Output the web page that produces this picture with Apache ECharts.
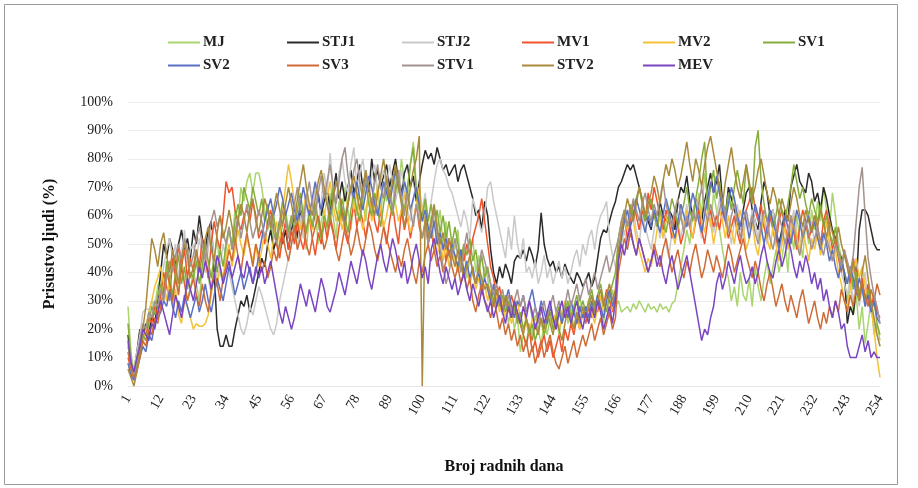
<!DOCTYPE html>
<html>
<head>
<meta charset="utf-8">
<script src="https://cdn.jsdelivr.net/npm/echarts@6/dist/echarts.min.js"></script>
<style>
html,body{margin:0;padding:0;background:#fff;}
#chart{width:918px;height:488px;}
</style>
</head>
<body>
<div id="chart"></div>
<script>
// Categories: working days 1..254
const days = Array.from({length: 254}, (_, i) => String(i + 1));
const yTicks = [0, 10, 20, 30, 40, 50, 60, 70, 80, 90, 100];
const seriesNames = ['MJ','STJ1','STJ2','MV1','MV2','SV1','SV2','SV3','STV1','STV2','MEV'];

const MJ = [
28,12,3,8,15,22,20,26,30,28,35,
38,32,42,36,45,40,33,44,38,30,35,
40,36,30,42,48,38,33,45,52,40,36,
48,55,50,62,58,70,65,72,75,68,75,
75,70,62,55,60,48,52,45,58,62,55,
60,52,58,65,55,48,60,56,62,50,58,
62,55,68,60,52,65,58,70,62,55,66,
60,72,65,58,70,62,75,68,60,72,65,
70,62,75,68,80,72,65,78,86,70,62,
58,65,52,60,48,55,62,50,58,45,52,
48,55,42,50,38,45,52,40,46,35,42,
38,30,35,28,32,25,30,22,28,20,25,
12,18,15,22,18,25,20,15,22,18,24,
20,26,18,24,30,22,28,20,26,32,24,
28,22,30,25,32,28,22,30,26,34,28,
30,26,27,28,26,29,27,30,28,26,29,
27,28,26,29,27,28,26,29,30,36,42,
48,55,50,62,58,68,60,75,65,56,68,
62,55,48,42,38,30,35,28,40,32,30,
38,28,42,35,30,38,44,36,42,48,40,
45,52,40,55,48,60,52,45,58,50,62,
55,65,58,70,62,55,68,60,50,45,38,
30,38,25,32,20,28,15,22,30,18,22,16];

const STJ1 = [
18,8,5,12,20,15,22,18,25,22,30,
40,50,45,52,48,42,50,55,48,52,45,
55,50,60,52,48,55,58,40,20,14,14,
18,14,14,20,25,30,28,32,26,30,35,
40,45,42,50,55,48,52,58,50,55,48,
55,60,52,62,58,65,60,55,62,68,60,
65,70,62,68,75,66,72,65,70,76,68,
72,78,70,75,68,80,72,76,70,74,78,
70,75,80,72,68,75,78,70,74,65,72,
78,83,80,82,78,84,80,76,78,74,76,
78,72,76,78,74,70,66,60,62,55,65,
60,48,40,36,42,38,43,40,36,44,46,
45,48,44,49,46,42,48,61,50,45,42,
44,40,42,38,43,40,38,36,40,38,35,
37,40,35,38,45,52,55,54,58,62,65,
70,72,75,78,76,78,74,70,65,60,58,
55,62,58,65,60,58,62,60,55,65,70,
68,74,65,60,66,62,58,65,70,75,68,
72,78,65,60,70,66,62,58,55,62,68,
70,62,58,55,65,72,68,60,62,55,50,
55,62,58,70,74,78,72,70,68,75,72,
65,68,62,70,66,60,55,52,48,45,40,
22,28,25,35,55,62,62,60,55,50,48,48];

const STJ2 = [
15,10,6,12,18,26,27,27,28,30,32,
35,42,48,52,45,50,38,46,55,42,48,
50,44,52,46,40,48,55,45,38,42,50,
45,40,35,30,25,20,18,22,28,25,30,
35,32,28,24,20,18,22,30,35,40,45,
50,55,48,60,52,65,58,62,70,55,65,
75,68,82,70,64,75,80,72,68,78,84,
70,75,80,72,66,74,78,68,72,76,70,
78,72,65,70,76,68,62,58,66,72,60,
62,68,58,65,72,78,80,76,74,70,68,
64,60,56,62,58,52,66,62,58,54,60,
70,72,65,60,55,50,45,56,48,60,50,
45,52,40,42,38,44,36,40,46,38,42,
36,40,44,38,42,36,40,45,48,42,50,
46,52,55,48,56,60,62,65,52,46,42,
45,50,55,48,58,62,55,50,60,56,52,
48,55,60,52,58,50,45,55,62,58,52,
58,64,56,60,66,58,52,62,68,60,54,
60,66,58,62,56,50,58,64,56,52,60,
55,62,58,52,60,56,50,58,62,54,48,
52,58,50,56,62,54,48,55,60,52,58,
50,56,48,52,58,50,44,48,52,40,36,
32,38,30,35,28,34,40,30,26,22,18,14];

const MV1 = [
10,6,4,8,14,20,18,24,22,28,25,
32,40,35,30,45,38,50,42,48,38,45,
40,48,42,52,45,38,50,58,52,48,60,
72,68,70,62,58,55,60,62,58,65,60,
52,55,50,58,62,56,50,45,52,58,48,
55,50,58,52,48,55,60,52,46,54,50,
58,52,60,55,48,56,62,54,50,58,64,
56,62,58,52,60,66,58,54,62,56,50,
58,64,56,50,62,55,60,52,58,64,56,
52,58,50,55,48,52,46,50,44,52,48,
46,42,48,44,50,46,52,56,60,66,58,
50,42,38,32,35,28,30,26,32,28,24,
22,18,14,20,12,16,10,14,18,12,16,
10,14,18,12,20,16,22,18,24,20,26,
22,28,24,30,26,32,28,34,30,26,32,
45,55,60,52,58,65,60,55,62,58,68,
62,70,65,60,55,62,58,52,60,56,50,
54,60,56,52,58,62,55,50,58,62,56,
60,55,62,58,52,56,60,54,50,58,62,
65,70,62,58,64,56,52,60,55,50,58,
62,56,52,60,54,48,56,62,58,52,55,
60,56,50,58,62,55,48,52,45,40,48,
42,36,45,40,32,38,30,36,28,32,26,24];

const MV2 = [
8,5,3,6,10,15,20,26,30,35,38,
42,36,30,38,28,34,25,22,30,28,24,
20,22,21,21,22,25,32,40,35,42,38,
45,50,42,48,55,50,46,52,48,44,50,
42,48,54,50,45,52,58,50,62,70,78,
72,65,60,55,62,68,60,55,64,58,52,
60,66,72,64,58,62,55,60,66,70,62,
68,60,55,62,68,58,64,70,62,56,60,
66,72,64,58,62,68,60,54,58,64,70,
62,56,52,58,50,46,52,44,50,42,48,
44,40,46,38,42,36,40,34,38,32,36,
30,34,28,32,26,30,24,28,22,26,30,
24,28,22,18,24,20,26,22,18,24,28,
22,26,20,24,30,26,22,28,24,20,26,
24,30,26,22,28,32,26,30,24,28,34,
48,52,58,55,62,58,52,48,44,40,45,
42,48,55,60,52,58,62,55,50,56,60,
55,62,58,52,60,66,58,54,62,58,50,
56,62,58,52,60,55,50,58,62,56,48,
52,58,50,46,54,60,52,48,56,50,44,
50,56,48,54,60,52,46,55,50,44,52,
48,54,46,52,58,50,44,48,40,36,30,
28,34,40,45,38,42,35,30,28,20,10,3];

const SV1 = [
22,10,4,8,12,18,16,22,28,25,32,
36,30,44,38,32,40,46,36,42,34,40,
38,44,36,42,50,44,38,46,40,48,42,
50,56,48,58,64,60,70,66,62,70,65,
60,66,58,64,55,60,52,58,65,60,54,
60,55,62,68,60,54,62,56,64,58,52,
60,56,64,70,62,58,66,60,54,62,68,
62,58,66,72,64,60,68,62,56,64,70,
64,60,68,74,66,62,70,78,84,68,62,
60,66,58,64,56,62,54,60,52,58,50,
56,50,44,50,46,52,44,48,40,46,38,
42,36,30,34,28,32,26,30,24,28,22,
26,20,24,18,22,16,20,24,18,22,26,
20,24,28,22,26,30,24,28,32,26,30,
26,30,34,28,32,36,30,26,32,36,40,
52,58,62,56,64,60,66,70,64,58,62,
66,60,56,62,58,54,60,66,62,56,60,
64,70,62,58,66,72,80,86,62,70,76,
66,72,64,60,68,62,70,76,70,64,78,
70,64,84,90,72,64,58,62,56,60,66,
62,58,64,70,78,72,66,70,64,60,66,
62,58,64,56,60,54,50,56,48,44,40,
36,42,34,40,30,36,28,34,26,30,22,18];

const SV2 = [
8,4,2,6,10,14,12,18,16,22,24,
26,30,28,34,28,24,30,26,32,28,24,
28,32,26,30,36,30,26,32,38,34,30,
36,42,38,32,36,40,34,38,42,36,40,
46,52,58,62,66,60,64,70,66,60,64,
68,62,58,64,70,64,60,66,72,66,62,
68,64,60,66,72,68,62,58,64,70,66,
72,66,62,68,74,70,64,60,66,72,68,
64,70,76,70,66,72,68,62,66,70,64,
58,62,56,52,58,50,54,48,52,46,50,
46,42,48,40,44,38,42,36,40,34,38,
34,30,36,28,32,26,30,34,28,24,30,
28,32,26,30,34,28,24,30,26,22,28,
24,20,26,22,28,24,30,26,22,28,24,
28,24,30,26,32,28,24,30,34,28,32,
46,52,58,62,56,60,66,62,58,54,60,
56,62,58,54,60,66,62,56,52,58,64,
60,56,62,68,64,58,54,60,66,72,68,
74,68,62,58,64,70,66,60,56,62,58,
52,58,64,60,56,50,56,62,58,54,48,
54,60,56,50,56,62,58,52,56,60,54,
58,52,48,54,50,44,48,42,38,44,40,
36,42,38,32,38,34,28,32,26,30,24,22];

const SV3 = [
12,6,3,5,10,16,14,20,18,24,22,
28,34,40,36,30,38,32,42,36,30,34,
38,32,28,36,30,26,34,40,36,30,38,
42,48,44,52,46,40,48,54,48,42,50,
46,40,44,38,42,48,44,50,54,48,44,
50,56,48,52,58,50,46,52,56,60,54,
48,52,58,54,48,44,50,56,52,46,50,
56,50,46,52,58,54,48,44,50,56,52,
48,44,40,46,42,48,52,46,40,36,44,
40,46,50,44,48,42,46,40,44,48,42,
38,42,36,40,34,38,30,26,32,36,30,
28,24,30,26,20,24,18,22,16,20,14,
18,12,16,10,14,8,12,16,10,14,18,
12,8,6,10,14,8,12,16,10,14,18,
14,18,22,16,20,24,18,22,26,20,24,
40,46,52,48,54,50,46,52,48,44,40,
44,50,46,42,48,52,46,40,44,48,42,
38,44,40,46,50,44,38,42,48,44,40,
46,42,38,44,50,46,40,44,48,52,46,
42,38,44,40,34,30,36,40,34,28,32,
36,30,26,32,28,24,30,34,28,22,26,
30,24,20,26,22,28,24,30,26,34,30,
26,32,28,34,30,36,32,28,34,30,36,32];

const STV1 = [
14,8,4,10,16,22,20,26,24,30,28,
34,30,38,44,40,46,50,44,52,48,42,
46,52,56,50,44,52,58,62,56,60,54,
50,56,48,54,60,52,58,64,58,52,56,
62,58,52,56,60,54,50,56,62,58,52,
58,64,70,62,58,66,72,64,60,68,74,
66,72,78,70,64,72,80,84,74,68,76,
80,72,66,74,70,64,72,78,70,66,74,
68,62,70,76,66,60,68,62,56,64,58,
52,58,50,56,62,54,48,42,36,40,46,
52,46,40,48,54,46,40,36,42,48,44,
40,36,32,36,30,34,28,32,26,30,34,
28,32,26,30,24,28,22,26,30,24,28,
32,26,30,24,28,34,28,32,36,30,34,
38,32,36,40,34,38,42,46,40,44,48,
52,58,62,56,60,66,62,58,64,68,62,
58,64,60,66,72,64,60,56,62,66,60,
54,60,56,62,58,64,70,62,58,64,60,
56,62,66,60,54,60,64,58,52,58,62,
56,60,54,50,56,62,58,52,48,54,60,
56,50,54,60,56,50,46,52,58,54,48,
52,56,50,46,52,48,44,50,46,42,48,
44,40,46,58,70,77,60,45,38,32,28,22];

const STV2 = [
6,3,0,5,12,20,28,40,52,48,42,
50,54,46,40,48,42,36,44,50,46,38,
42,48,40,46,52,56,48,44,54,60,52,
56,62,56,50,58,64,60,54,62,66,58,
54,60,66,62,56,62,68,62,56,64,70,
64,58,66,72,78,70,64,60,66,72,76,
70,64,58,66,72,68,62,56,64,70,74,
68,62,70,76,70,64,60,68,74,80,72,
66,72,78,70,64,56,62,70,76,80,88,
0,60,52,58,64,56,50,54,48,52,46,
42,48,44,38,42,46,40,36,42,38,34,
36,32,28,34,30,26,32,28,24,30,26,
22,18,24,20,16,22,18,24,20,26,22,
18,24,20,16,22,28,24,20,26,22,28,
24,28,32,26,30,34,28,32,36,30,34,
48,54,60,66,62,58,64,70,66,60,64,
68,74,70,64,72,78,74,80,76,70,74,
80,86,78,72,80,76,70,78,84,88,82,
76,70,64,72,78,84,76,70,66,72,78,
72,66,70,76,80,74,68,64,70,66,60,
66,62,58,64,70,66,60,56,62,58,54,
60,56,62,58,52,58,54,50,56,50,46,
42,38,44,36,30,40,46,38,30,24,18,14];

const MEV = [
16,8,5,10,14,20,18,16,22,20,26,
30,26,22,18,25,32,28,24,30,38,34,
30,36,42,38,44,40,34,38,46,42,36,
40,44,38,42,46,40,38,44,40,36,42,
38,42,36,40,44,38,32,26,22,28,24,
20,24,30,36,32,28,34,30,26,32,38,
34,28,26,30,34,40,36,32,38,44,40,
36,42,48,44,38,34,40,46,50,44,40,
46,52,48,42,38,44,36,40,46,50,44,
38,42,36,48,52,46,40,36,42,38,34,
38,32,36,40,34,30,36,32,28,34,30,
26,30,24,28,32,26,22,28,24,30,26,
22,28,24,30,26,20,24,28,22,26,30,
24,20,26,30,24,28,22,26,30,24,20,
26,22,28,24,30,26,20,24,28,22,30,
44,50,46,52,56,50,46,52,48,44,40,
44,48,42,46,40,36,42,46,40,34,38,
42,46,40,34,28,22,16,20,18,24,28,
36,40,34,38,44,40,36,42,46,40,36,
38,42,36,40,46,50,44,40,38,44,48,
42,46,52,48,42,38,44,40,46,42,36,
40,34,38,30,34,28,24,30,26,20,22,
14,10,10,10,14,18,12,16,10,12,10,10];

const seriesData = [MJ, STJ1, STJ2, MV1, MV2, SV1, SV2, SV3, STV1, STV2, MEV];
const colors = ['#a9d46e','#2a2a2a','#c9c9c9','#f0542d','#f5c136','#86ad3c','#5b6fc4','#cf6b36','#a3928e','#a88a3a','#7a45c0'];

seriesData.forEach((arr, i) => {
  if (arr.length !== days.length) throw new Error(seriesNames[i] + ' has ' + arr.length + ' values');
});

const serif = '"Liberation Serif", "DejaVu Serif", serif';
const legendCols = [163, 282, 397, 517, 638, 758];
const legends = seriesNames.map((name, i) => ({
  data: [name],
  left: legendCols[i % 6],
  top: i < 6 ? 30 : 53,
  icon: 'rect',
  itemWidth: 32,
  itemHeight: 2,
  selectedMode: false,
  textStyle: { fontFamily: serif, fontSize: 15, fontWeight: 'bold', color: '#222', padding: [0, 0, 0, -2] }
}));

const chart = echarts.init(document.getElementById('chart'), null, { renderer: 'canvas' });
chart.setOption({
  animation: false,
  backgroundColor: '#fff',
  color: colors,
  graphic: [{
    type: 'rect',
    shape: { x: 4.5, y: 4.5, width: 893, height: 480 },
    style: { fill: 'none', stroke: '#9a9a9a', lineWidth: 1 },
    silent: true
  }],
  legend: legends,
  grid: { left: 128, right: 38, top: 102, bottom: 102, containLabel: false },
  xAxis: {
    type: 'category',
    data: days,
    boundaryGap: false,
    name: 'Broj radnih dana',
    nameLocation: 'middle',
    nameGap: 73,
    nameTextStyle: { fontFamily: serif, fontSize: 16, fontWeight: 'bold', color: '#111' },
    axisLine: { show: true, lineStyle: { color: '#e6e6e6' } },
    axisTick: { show: false },
    axisLabel: {
      interval: 10,
      rotate: 60,
      margin: 10,
      fontFamily: serif,
      fontSize: 14,
      color: '#222'
    },
    splitLine: { show: false }
  },
  yAxis: {
    type: 'value',
    min: yTicks[0],
    max: yTicks[yTicks.length - 1],
    interval: 10,
    name: 'Prisustvo ljudi (%)',
    nameLocation: 'middle',
    nameGap: 70,
    nameTextStyle: { fontFamily: serif, fontSize: 16, fontWeight: 'bold', color: '#111' },
    axisLine: { show: false },
    axisTick: { show: false },
    axisLabel: {
      formatter: '{value}%',
      margin: 15,
      fontFamily: serif,
      fontSize: 14,
      color: '#1a1a1a'
    },
    splitLine: { show: true, lineStyle: { color: '#ececec', width: 1 } }
  },
  series: seriesNames.map((name, i) => ({
    name: name,
    type: 'line',
    data: seriesData[i],
    symbol: 'none',
    showSymbol: false,
    lineStyle: { width: 1.5, color: colors[i] },
    itemStyle: { color: colors[i] },
    z: 2
  }))
});
</script>
</body>
</html>
